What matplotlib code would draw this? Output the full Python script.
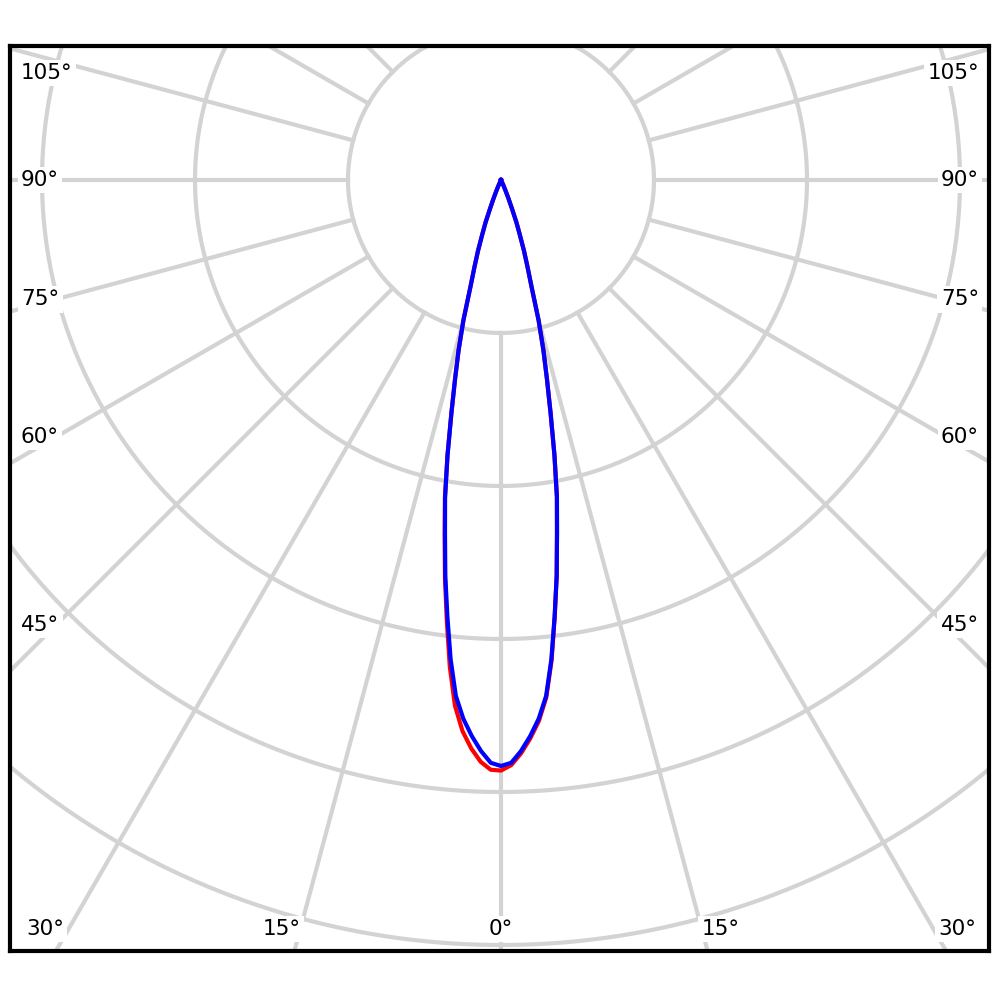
import numpy as np
import matplotlib
matplotlib.use("Agg")
import matplotlib.pyplot as plt

# ===== DATA (cd, gamma angle in degrees from nadir) =====
gamma = [0, 1, 2, 3, 4, 5, 6, 7, 8, 9, 10, 11, 12, 13, 14, 15, 16, 17, 18,
         19, 20, 21, 22, 23, 24, 25, 26, 28, 30, 45, 60, 75, 90]
# C90 / C270 plane (blue), symmetric
blue_int = [3830, 3810, 3735, 3640, 3530, 3385, 3150, 2875, 2615, 2340, 2105,
            1830, 1560, 1335, 1145, 950, 720, 590, 485, 375, 295, 195, 130,
            80, 45, 25, 12, 0, 0, 0, 0, 0, 0]
# C0 plane (red, right half)
red_c0 = [3850, 3825, 3750, 3655, 3545, 3395, 3160, 2880, 2615, 2340, 2105,
          1830, 1560, 1335, 1145, 950, 720, 590, 485, 375, 295, 195, 130,
          80, 45, 25, 12, 0, 0, 0, 0, 0, 0]
# C180 plane (red, left half)
red_c180 = [3860, 3855, 3805, 3720, 3610, 3450, 3200, 2905, 2630, 2355, 2110,
            1835, 1560, 1335, 1145, 950, 720, 590, 485, 375, 295, 195, 130,
            80, 45, 25, 12, 0, 0, 0, 0, 0, 0]

ring_values = [1000, 2000, 3000, 4000, 5000, 6000, 7000]
ray_angles = list(range(0, 360, 15))
side_labels = [45, 60, 75, 90, 105]
bottom_labels = [0, 15, 30]

# ===== STYLE =====
GRID_COLOR = "#d3d3d3"
PX = 0.153  # pixels per cd
FS = 15.5


def to_xy(ang_deg, r):
    a = np.radians(ang_deg)
    return r * np.sin(a), -r * np.cos(a)


fig = plt.figure(figsize=(10, 10), dpi=100)
ax = fig.add_axes([0.010, 0.049, 0.979, 0.905])
ax.set_xlim(-491 / PX, 488 / PX)
ax.set_ylim(-771 / PX, 134 / PX)
ax.set_xticks([])
ax.set_yticks([])
for sp in ax.spines.values():
    sp.set_linewidth(3)
    sp.set_color("black")

# rings
t = np.linspace(0, 360, 721)
for rv in ring_values:
    x, y = to_xy(t, rv)
    ax.plot(x, y, color=GRID_COLOR, lw=3, zorder=1)

# rays from first ring outwards
for ang in ray_angles:
    x, y = to_xy(np.array([ang, ang]), np.array([ring_values[0], 12000]))
    ax.plot(x, y, color=GRID_COLOR, lw=3, zorder=1)

# labels
box = dict(facecolor="white", edgecolor="none", pad=2.5)
x_ref = 445 / PX
for ang in side_labels:
    yv = -x_ref / np.tan(np.radians(ang)) if ang != 90 else 0.0
    yv = min(yv, 107 / PX)
    ax.text(-480 / PX, yv, f"{ang}°", ha="left", va="center", fontsize=FS,
            bbox=box, zorder=3)
    ax.text(478 / PX, yv, f"{ang}°", ha="right", va="center", fontsize=FS,
            bbox=box, zorder=3)
y_ref = 820 / PX
for ang in bottom_labels:
    xv = min(y_ref * np.tan(np.radians(ang)), 456 / PX)
    for s in ([1] if ang == 0 else [-1, 1]):
        ax.text(s * xv, -749 / PX, f"{ang}°", ha="center", va="center",
                fontsize=FS, bbox=box, zorder=3)

# curves
g = np.array(gamma, dtype=float)
red_ang = np.concatenate([-g[::-1], g[1:]])
red_r = np.concatenate([np.array(red_c180)[::-1], np.array(red_c0)[1:]])
xr, yr = to_xy(red_ang, red_r)
ax.plot(xr, yr, color="red", lw=3, zorder=4, solid_joinstyle="round")

blue_ang = np.concatenate([-g[::-1], g[1:]])
blue_r = np.concatenate([np.array(blue_int)[::-1], np.array(blue_int)[1:]])
xb, yb = to_xy(blue_ang, blue_r)
ax.plot(xb, yb, color="blue", lw=3, zorder=5, solid_joinstyle="round")

fig.savefig("out.png", dpi=100, facecolor="white")
